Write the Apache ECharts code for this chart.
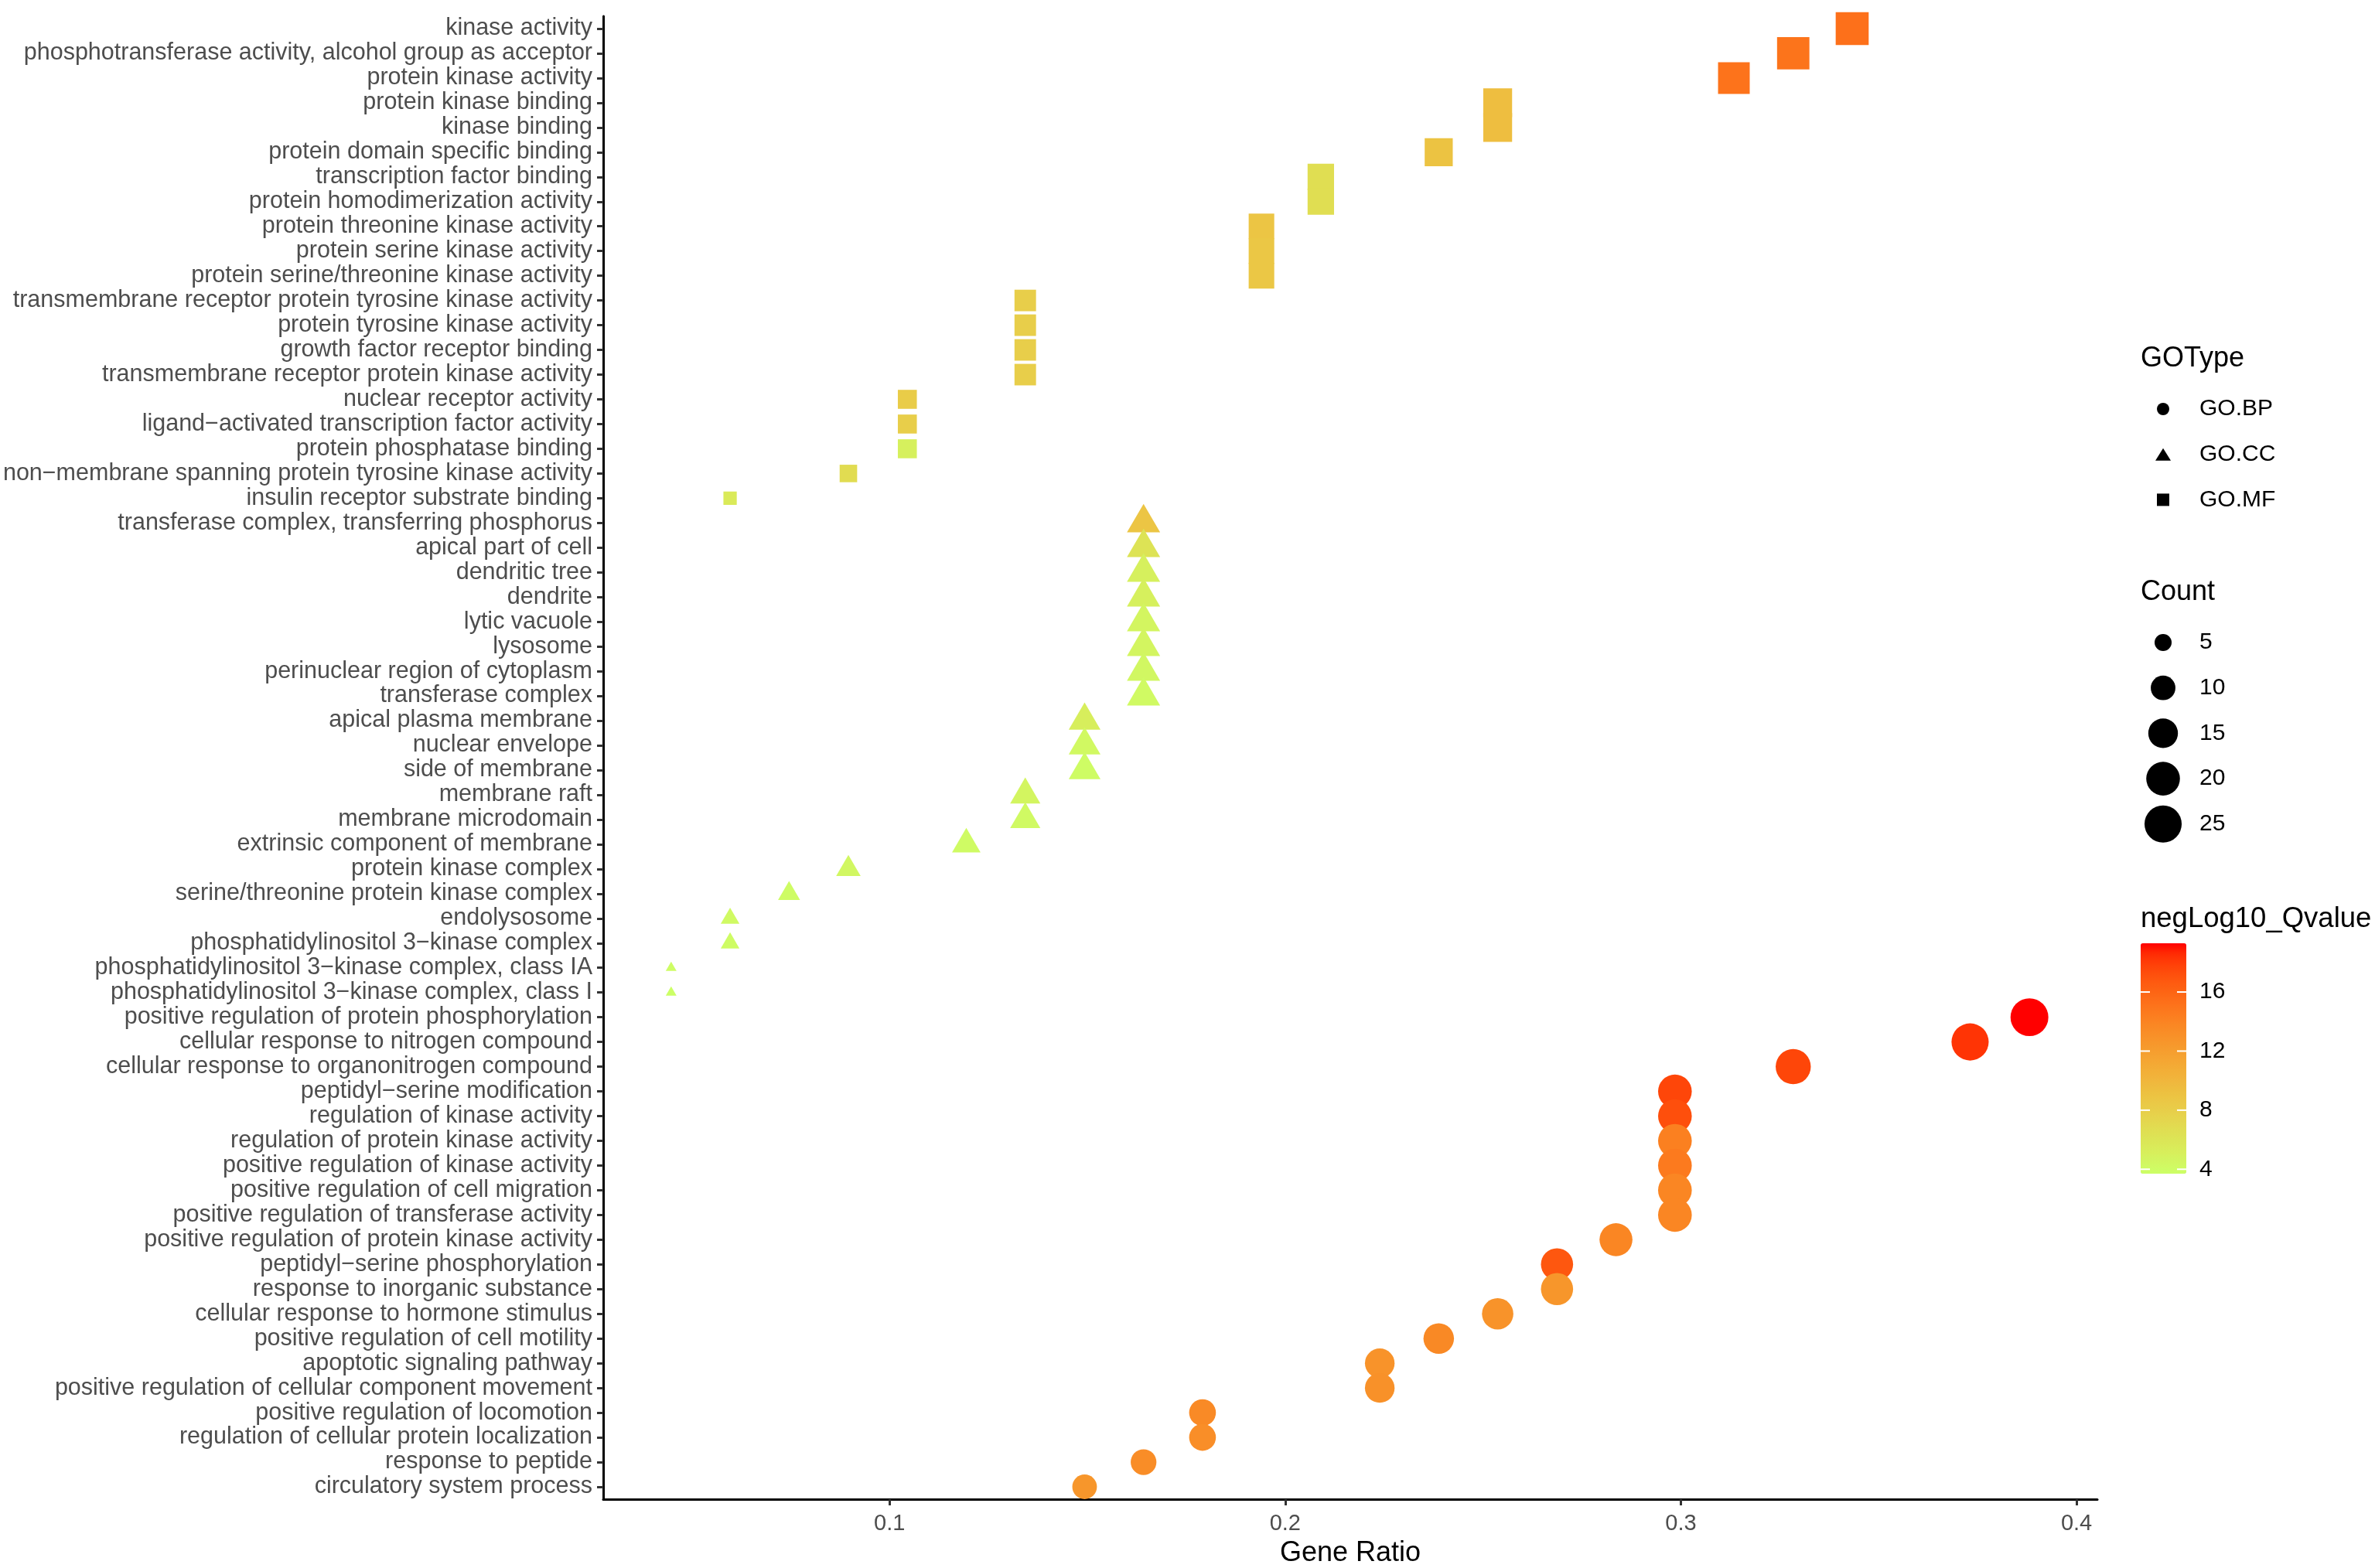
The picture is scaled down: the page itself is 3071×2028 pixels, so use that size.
<!DOCTYPE html>
<html><head><meta charset="utf-8">
<script src="https://cdn.jsdelivr.net/npm/echarts@6/dist/echarts.min.js"></script>
<style>html,body{margin:0;padding:0;background:#fff}#c{width:3071px;height:2028px}</style>
</head><body><div id="c"></div>
<script>
// ---------------- DATA ----------------
const terms = [
  "kinase activity",
  "phosphotransferase activity, alcohol group as acceptor",
  "protein kinase activity",
  "protein kinase binding",
  "kinase binding",
  "protein domain specific binding",
  "transcription factor binding",
  "protein homodimerization activity",
  "protein threonine kinase activity",
  "protein serine kinase activity",
  "protein serine/threonine kinase activity",
  "transmembrane receptor protein tyrosine kinase activity",
  "protein tyrosine kinase activity",
  "growth factor receptor binding",
  "transmembrane receptor protein kinase activity",
  "nuclear receptor activity",
  "ligand\u2212activated transcription factor activity",
  "protein phosphatase binding",
  "non\u2212membrane spanning protein tyrosine kinase activity",
  "insulin receptor substrate binding",
  "transferase complex, transferring phosphorus",
  "apical part of cell",
  "dendritic tree",
  "dendrite",
  "lytic vacuole",
  "lysosome",
  "perinuclear region of cytoplasm",
  "transferase complex",
  "apical plasma membrane",
  "nuclear envelope",
  "side of membrane",
  "membrane raft",
  "membrane microdomain",
  "extrinsic component of membrane",
  "protein kinase complex",
  "serine/threonine protein kinase complex",
  "endolysosome",
  "phosphatidylinositol 3\u2212kinase complex",
  "phosphatidylinositol 3\u2212kinase complex, class IA",
  "phosphatidylinositol 3\u2212kinase complex, class I",
  "positive regulation of protein phosphorylation",
  "cellular response to nitrogen compound",
  "cellular response to organonitrogen compound",
  "peptidyl\u2212serine modification",
  "regulation of kinase activity",
  "regulation of protein kinase activity",
  "positive regulation of kinase activity",
  "positive regulation of cell migration",
  "positive regulation of transferase activity",
  "positive regulation of protein kinase activity",
  "peptidyl\u2212serine phosphorylation",
  "response to inorganic substance",
  "cellular response to hormone stimulus",
  "positive regulation of cell motility",
  "apoptotic signaling pathway",
  "positive regulation of cellular component movement",
  "positive regulation of locomotion",
  "regulation of cellular protein localization",
  "response to peptide",
  "circulatory system process"
];
const goType = [
  "GO.MF","GO.MF","GO.MF","GO.MF","GO.MF","GO.MF","GO.MF","GO.MF","GO.MF","GO.MF",
  "GO.MF","GO.MF","GO.MF","GO.MF","GO.MF","GO.MF","GO.MF","GO.MF","GO.MF","GO.MF",
  "GO.CC","GO.CC","GO.CC","GO.CC","GO.CC","GO.CC","GO.CC","GO.CC","GO.CC","GO.CC",
  "GO.CC","GO.CC","GO.CC","GO.CC","GO.CC","GO.CC","GO.CC","GO.CC","GO.CC","GO.CC",
  "GO.BP","GO.BP","GO.BP","GO.BP","GO.BP","GO.BP","GO.BP","GO.BP","GO.BP","GO.BP",
  "GO.BP","GO.BP","GO.BP","GO.BP","GO.BP","GO.BP","GO.BP","GO.BP","GO.BP","GO.BP"
];
const geneRatio = [
  0.3433,0.3284,0.3134,0.2537,0.2537,0.2388,0.2090,0.2090,0.1940,0.1940,
  0.1940,0.1343,0.1343,0.1343,0.1343,0.1045,0.1045,0.1045,0.0896,0.0597,
  0.1642,0.1642,0.1642,0.1642,0.1642,0.1642,0.1642,0.1642,0.1493,0.1493,
  0.1493,0.1343,0.1343,0.1194,0.0896,0.0746,0.0597,0.0597,0.0448,0.0448,
  0.3881,0.3731,0.3284,0.2985,0.2985,0.2985,0.2985,0.2985,0.2985,0.2836,
  0.2687,0.2687,0.2537,0.2388,0.2239,0.2239,0.1791,0.1791,0.1642,0.1493
];
const geneCount = [
  23,22,21,17,17,16,14,14,13,13,
  13,9,9,9,9,7,7,7,6,4,
  11,11,11,11,11,11,11,11,10,10,
  10,9,9,8,6,5,4,4,3,3,
  26,25,22,20,20,20,20,20,20,19,
  18,18,17,16,15,15,12,12,11,10
];
const negLog10Q = [
  15.3,15.0,15.1,9.4,9.4,9.0,6.6,6.6,8.8,8.6,
  8.6,8.0,8.0,8.0,8.0,8.2,8.0,5.0,6.8,5.6,
  8.8,6.2,5.0,5.0,4.6,4.6,4.4,4.2,5.2,4.3,
  4.0,4.6,4.2,4.1,4.4,4.0,4.2,4.0,3.9,3.7,
  19.3,18.3,17.6,17.6,17.2,14.2,14.6,13.8,13.8,13.8,
  16.8,12.6,12.8,13.6,12.8,13.0,13.5,13.2,13.3,12.6
];
const xTicks = [0.1, 0.2, 0.3, 0.4];
const countBreaks = [5, 10, 15, 20, 25];
const colorTicks = [4, 8, 12, 16];
const typeNames = ["GO.BP", "GO.CC", "GO.MF"];

// ---------------- HELPERS ----------------
const FONT = "Liberation Sans, Arial, Helvetica, sans-serif";
function hex2rgb(h){h=h.replace('#','');return [0,2,4].map(i=>parseInt(h.substr(i,2),16));}
function s2l(c){c/=255;return c<=0.04045?c/12.92:Math.pow((c+0.055)/1.055,2.4);}
function l2s(c){c=c<=0.0031308?12.92*c:1.055*Math.pow(c,1/2.4)-0.055;return Math.round(Math.max(0,Math.min(1,c))*255);}
function rgb2lab(rgb){
  const [r,g,b]=rgb.map(s2l);
  const X=(0.4124*r+0.3576*g+0.1805*b)/0.95047, Y=0.2126*r+0.7152*g+0.0722*b, Z=(0.0193*r+0.1192*g+0.9505*b)/1.08883;
  const f=t=>t>0.008856?Math.cbrt(t):7.787*t+16/116;
  const fx=f(X),fy=f(Y),fz=f(Z);
  return [116*fy-16,500*(fx-fy),200*(fy-fz)];
}
function lab2hex(lab){
  const fy=(lab[0]+16)/116, fx=fy+lab[1]/500, fz=fy-lab[2]/200;
  const fi=t=>t*t*t>0.008856?t*t*t:(t-16/116)/7.787;
  const X=fi(fx)*0.95047,Y=fi(fy),Z=fi(fz)*1.08883;
  const r=3.2406*X-1.5372*Y-0.4986*Z, g=-0.9689*X+1.8758*Y+0.0415*Z, b=0.0557*X-0.2040*Y+1.0570*Z;
  return '#'+[r,g,b].map(v=>l2s(v).toString(16).padStart(2,'0')).join('');
}
function labRamp(lo,hi,n){
  const a=rgb2lab(hex2rgb(lo)), b=rgb2lab(hex2rgb(hi)), out=[];
  for(let i=0;i<n;i++){const t=i/(n-1);out.push(lab2hex([0,1,2].map(k=>a[k]+(b[k]-a[k])*t)));}
  return out;
}
const rampColors = labRamp('#CCFF66', '#FF0000', 25);

const cMin = Math.min(...geneCount), cMax = Math.max(...geneCount);
function diam(c){ const s = 1 + 5*Math.sqrt((c-cMin)/(cMax-cMin)); return 7.62*s + 3.2; }
const qMin = Math.min(...negLog10Q), qMax = Math.max(...negLog10Q);
const xLo = Math.min(...geneRatio), xHi = Math.max(...geneRatio), xPad = 0.05*(xHi-xLo);

const symbols = {"GO.BP":"circle","GO.CC":"triangle","GO.MF":"rect"};
function sizeFor(type){
  return function(v){
    const d = diam(v[2]);
    if(type==="GO.CC") return [1.29*d, 1.11*d];
    if(type==="GO.MF") return [0.92*d, 0.92*d];
    return d;
  };
}

const series = typeNames.map(t => ({
  name: t,
  type: 'scatter',
  symbol: symbols[t],
  symbolSize: sizeFor(t),
  symbolOffset: t==="GO.CC" ? ['0%','-16.7%'] : [0,0],
  data: terms.map((name,i)=>i).filter(i=>goType[i]===t)
        .map(i=>[geneRatio[i], terms[i], geneCount[i], negLog10Q[i]]),
  itemStyle: {opacity: 1},
  emphasis: {disabled: true},
  animation: false
}));

// legend / colorbar geometry
const LX = 2768, keyX = 2797, labX = 2844;
const barTop = 1220, barH = 298, barW = 59;
const graphics = [];
function addText(x,y,txt,size){
  graphics.push({type:'text', x:x, y:y, style:{text:txt, fontSize:size, fontFamily:FONT, fill:'#000', align:'left', verticalAlign:'middle'}});
}
addText(LX, 464, 'GOType', 36);
addText(LX, 766, 'Count', 36);
addText(LX, 1189, 'negLog10_Qvalue', 36.5);
countBreaks.forEach((c,i)=>{
  const cy = 831 + i*58.7;
  graphics.push({type:'circle', shape:{cx:keyX, cy:cy, r:diam(c)/2}, style:{fill:'#000'}});
  addText(labX, cy, String(c), 30);
});
colorTicks.forEach(v=>{
  const y = barTop + barH*(qMax - v)/(qMax - qMin);
  graphics.push({type:'line', shape:{x1:LX, y1:y, x2:LX+12, y2:y}, style:{stroke:'#fff', lineWidth:2}, z:100});
  graphics.push({type:'line', shape:{x1:LX+barW-12, y1:y, x2:LX+barW, y2:y}, style:{stroke:'#fff', lineWidth:2}, z:100});
  addText(labX, y, String(v), 30);
});

const chart = echarts.init(document.getElementById('c'), null, {renderer:'canvas'});
chart.setOption({
  backgroundColor: '#fff',
  animation: false,
  grid: {left: 780, right: 359, top: 21, bottom: 89, containLabel: false, outerBoundsMode: 'none'},
  xAxis: {
    type: 'value',
    min: xLo - xPad, max: xHi + xPad,
    name: 'Gene Ratio', nameLocation: 'middle', nameGap: 52,
    nameTextStyle: {fontSize: 36, fontFamily: FONT, color: '#000'},
    axisLine: {show: true, onZero: false, lineStyle: {color: '#000', width: 3}},
    axisTick: {show: true, length: 8, customValues: xTicks, lineStyle: {color: '#333', width: 3}},
    axisLabel: {customValues: xTicks, fontSize: 29, fontFamily: FONT, color: '#4D4D4D', margin: 17,
                formatter: v => String(Math.round(v*10)/10)},
    splitLine: {show: false}
  },
  yAxis: {
    type: 'category',
    data: terms,
    inverse: true,
    boundaryGap: true,
    axisLine: {show: true, lineStyle: {color: '#000', width: 3}},
    axisTick: {show: true, alignWithLabel: true, length: 8, interval: 0, lineStyle: {color: '#333', width: 3}},
    axisLabel: {interval: 0, fontSize: 30.5, fontFamily: FONT, color: '#4D4D4D', margin: 14},
    splitLine: {show: false}
  },
  legend: {
    orient: 'vertical', left: 2787, top: 514, padding: 0,
    itemWidth: 20, itemHeight: 16, itemGap: 28.7,
    selectedMode: false,
    textStyle: {fontSize: 30, lineHeight: 30, fontFamily: FONT, color: '#000', padding: [0,0,0,32]},
    data: [
      {name: 'GO.BP', icon: 'circle', itemStyle: {color: '#000'}},
      {name: 'GO.CC', icon: 'triangle', itemStyle: {color: '#000'}},
      {name: 'GO.MF', icon: 'path://M0 0H10V10H0Z', itemStyle: {color: '#000'}}
    ]
  },
  visualMap: {
    type: 'continuous',
    show: true,
    dimension: 3,
    seriesIndex: [0,1,2],
    min: qMin, max: qMax,
    left: LX, top: barTop,
    itemWidth: barW, itemHeight: barH,
    padding: 0,
    calculable: false, hoverLink: false, realtime: false,
    text: null, showLabel: false,
    inRange: {color: rampColors}
  },
  graphic: graphics,
  series: series
});
</script></body></html>
